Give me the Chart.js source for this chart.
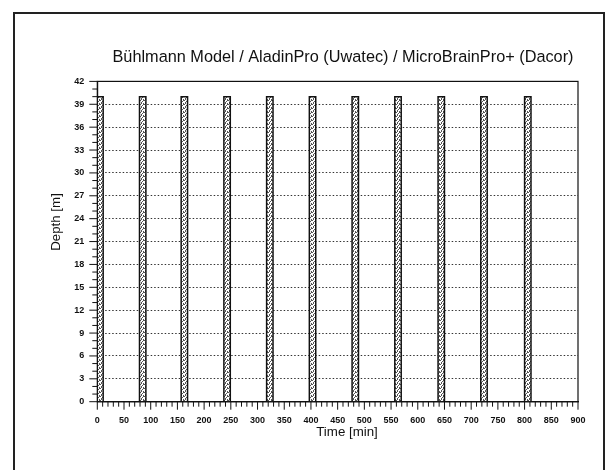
<!DOCTYPE html>
<html><head><meta charset="utf-8">
<script src="https://cdn.jsdelivr.net/npm/chart.js@4.4.1/dist/chart.umd.min.js"></script>
<style>html,body{margin:0;padding:0;background:#fff}canvas{display:block}</style>
</head><body>
<canvas id="c" width="608" height="470"></canvas>
<script>
const titleText = 'Bühlmann Model / AladinPro (Uwatec) / MicroBrainPro+ (Dacor)';
const xTitle = 'Time [min]';
const yTitle = 'Depth [m]';
const diveStarts = [0, 79, 157, 237, 317, 397, 477, 557, 638, 718, 800];
const diveDurations = [11, 12, 12, 12, 12, 12, 12, 12, 12, 12, 12];
const diveDepths = [40, 40, 40, 40, 40, 40, 40, 40, 40, 40, 40];
const xTickLabels = [0, 50, 100, 150, 200, 250, 300, 350, 400, 450, 500, 550, 600, 650, 700, 750, 800, 850, 900];
const yTickLabels = [0, 3, 6, 9, 12, 15, 18, 21, 24, 27, 30, 33, 36, 39, 42];
const yGridValues = [3, 6, 9, 12, 15, 18, 21, 24, 27, 30, 33, 36, 39];

const FONT = '"Liberation Sans", Arial, sans-serif';

// depth profile built from the dive arrays
const profile = [];
diveStarts.forEach((s, i) => {
  const e = s + diveDurations[i];
  const d = diveDepths[i];
  profile.push({x: s, y: 0}, {x: s, y: d}, {x: e, y: d}, {x: e, y: 0});
});

function stipple() {
  const c = document.createElement('canvas');
  c.width = 4; c.height = 4;
  const g = c.getContext('2d');
  g.fillStyle = '#ffffff'; g.fillRect(0, 0, 4, 4);
  g.fillStyle = '#555555';
  [[0,0],[2,1],[1,2],[3,3],[3,0],[1,3]].forEach(([a,b]) => g.fillRect(a, b, 1, 1));
  return g.createPattern(c, 'repeat');
}

const decor = {
  id: 'decor',
  beforeDraw(chart) {
    const ctx = chart.ctx;
    ctx.save();
    ctx.fillStyle = '#fff';
    ctx.fillRect(0, 0, chart.width, chart.height);
    ctx.strokeStyle = '#222';
    ctx.lineWidth = 2;
    ctx.beginPath();
    ctx.moveTo(14, 470); ctx.lineTo(14, 13); ctx.lineTo(604, 13); ctx.lineTo(604, 470);
    ctx.stroke();
    ctx.restore();
  },
  afterDraw(chart) {
    const {ctx, chartArea: a, scales: {x, y}} = chart;
    ctx.save();
    ctx.strokeStyle = '#111';
    ctx.lineWidth = 1.2;
    ctx.strokeRect(a.left, a.top, a.right - a.left, a.bottom - a.top);
    ctx.lineWidth = 1;
    ctx.beginPath();
    x.ticks.forEach(t => {
      const px = x.getPixelForValue(t.value);
      const L = xTickLabels.includes(t.value) ? 8 : 5;
      ctx.moveTo(px, a.bottom); ctx.lineTo(px, a.bottom + L);
    });
    y.ticks.forEach(t => {
      const py = y.getPixelForValue(t.value);
      const L = yTickLabels.includes(t.value) ? 8 : 5;
      ctx.moveTo(a.left, py); ctx.lineTo(a.left - L, py);
    });
    ctx.stroke();
    ctx.fillStyle = '#111';
    ctx.textAlign = 'center';
    ctx.textBaseline = 'middle';
    ctx.font = '16.3px ' + FONT;
    ctx.fillText(titleText, 343, 58);
    ctx.font = '13.3px ' + FONT;
    ctx.fillText(xTitle, 347, 432);
    ctx.translate(56, 222);
    ctx.rotate(-Math.PI / 2);
    ctx.fillText(yTitle, 0, 0);
    ctx.restore();
  }
};

new Chart(document.getElementById('c'), {
  type: 'line',
  data: {
    datasets: [{
      data: profile,
      borderColor: '#111',
      borderWidth: 1.5,
      backgroundColor: stipple(),
      fill: 'origin',
      pointRadius: 0,
      tension: 0
    }]
  },
  options: {
    responsive: false,
    animation: false,
    devicePixelRatio: 1,
    layout: {padding: {left: 0, right: 30, top: 81.4, bottom: 0}},
    plugins: {legend: {display: false}, title: {display: false}, tooltip: {enabled: false}},
    scales: {
      x: {
        type: 'linear', min: 0, max: 900,
        afterFit: s => { s.height = 470 - 401.7; },
        grid: {display: false, drawTicks: false},
        border: {display: true, color: '#111', width: 1.2},
        ticks: {
          stepSize: 10, autoSkip: false, maxRotation: 0, minRotation: 0, padding: 13,
          color: '#111', font: {family: FONT, size: 9, weight: 'bold'},
          callback: v => xTickLabels.includes(v) ? String(v) : ''
        }
      },
      y: {
        type: 'linear', min: 0, max: 42,
        afterFit: s => { s.width = 97.3; },
        grid: {
          drawTicks: false,
          color: c => (c.tick && yGridValues.includes(c.tick.value)) ? '#333' : 'rgba(0,0,0,0)',
          lineWidth: 1
        },
        border: {display: true, color: '#111', width: 1.2, dash: [1.5, 2]},
        ticks: {
          stepSize: 1, autoSkip: false, padding: 13,
          color: '#111', font: {family: FONT, size: 9, weight: 'bold'},
          callback: v => yTickLabels.includes(v) ? String(v) : ''
        }
      }
    }
  },
  plugins: [decor]
});
</script>
</body></html>
